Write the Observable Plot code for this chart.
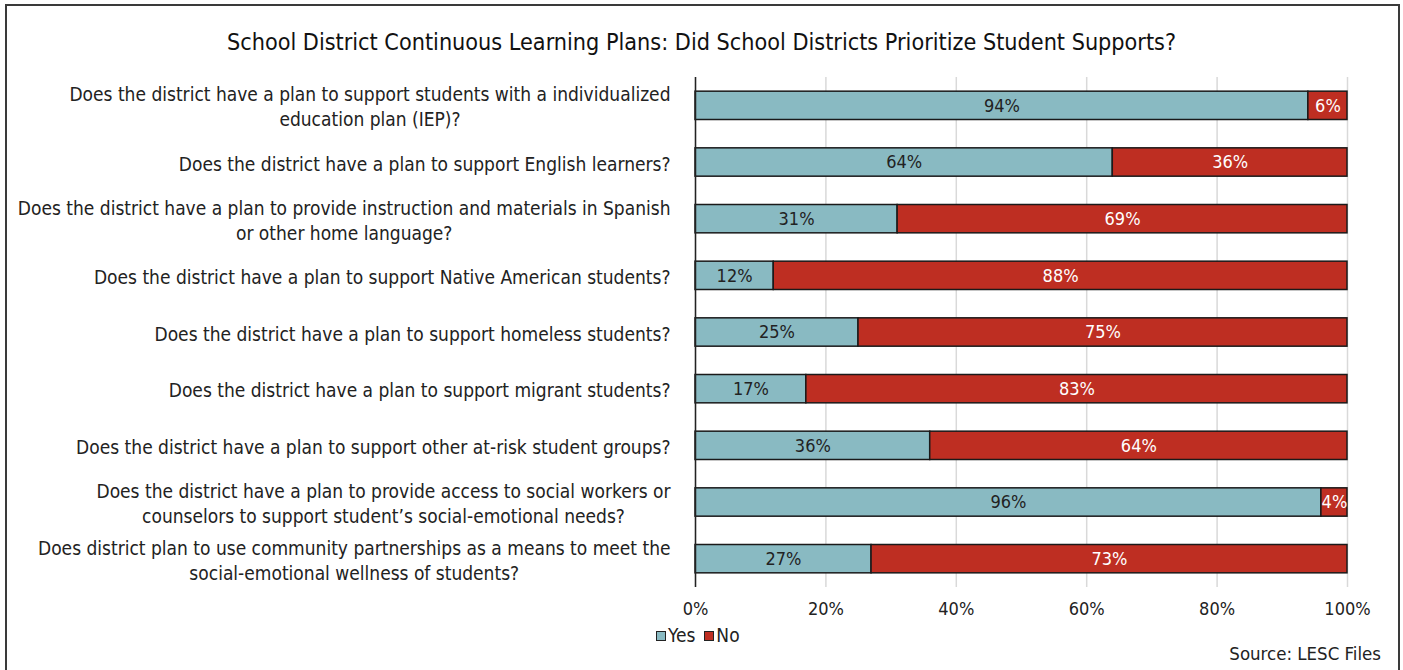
<!DOCTYPE html>
<html><head><meta charset="utf-8">
<script src="https://cdn.jsdelivr.net/npm/d3@7"></script>
<script src="https://cdn.jsdelivr.net/npm/@observablehq/plot@0.6"></script>
<style>
body{margin:0;background:#fff;width:1403px;height:670px;overflow:hidden;position:relative;}
#frame{position:absolute;left:5px;top:4px;width:1395px;height:720px;border:2px solid #3a3a3a;box-sizing:border-box;}
#title{position:absolute;left:0;top:28px;width:1403px;text-align:center;font-family:"DejaVu Sans Condensed","Liberation Sans Narrow",sans-serif;font-size:23.2px;color:#111;}
#chart{position:absolute;left:0;top:60px;}
#legend{position:absolute;left:656px;top:624px;font-family:"DejaVu Sans Condensed","Liberation Sans Narrow",sans-serif;font-size:19px;color:#222;}
#legend span.sw{display:inline-block;width:8px;height:8px;border:1.5px solid #222;margin-right:2px;vertical-align:middle;position:relative;top:-1px;}
#legend span.it{margin-right:9px;}
#source{position:absolute;right:22px;top:643px;font-family:"DejaVu Sans Condensed","Liberation Sans Narrow",sans-serif;font-size:18.5px;color:#222;}
</style>
</head><body>
<div id="frame"></div>
<div id="title">School District Continuous Learning Plans: Did School Districts Prioritize Student Supports?</div>
<div id="chart"></div>
<div id="legend"></div>
<div id="source">Source: LESC Files</div>
<script>
const questions = [
  "Does the district have a plan to support students with a individualized\neducation plan (IEP)?",
  "Does the district have a plan to support English learners?",
  "Does the district have a plan to provide instruction and materials in Spanish\nor other home language?",
  "Does the district have a plan to support Native American students?",
  "Does the district have a plan to support homeless students?",
  "Does the district have a plan to support migrant students?",
  "Does the district have a plan to support other at-risk student groups?",
  "Does the district have a plan to provide access to social workers or\ncounselors to support student\u2019s social-emotional needs?",
  "Does district plan to use community partnerships as a means to meet the\nsocial-emotional wellness of students?"
];
const yesValues = [94, 64, 31, 12, 25, 17, 36, 96, 27];
const noValues = [6, 36, 69, 88, 75, 83, 64, 4, 73];
const seriesNames = ["Yes", "No"];
const seriesColors = ["#89BAC2", "#BE2E22"];
const labelColors = ["#222222", "#ffffff"];
const xTicks = [0, 20, 40, 60, 80, 100];

const FONT = '"DejaVu Sans Condensed","Liberation Sans Narrow",sans-serif';
const LABEL_SIZE = 19;

const rows = [];
questions.forEach((q, i) => {
  rows.push({q, series: "Yes", value: yesValues[i], x1: 0, x2: yesValues[i]});
  rows.push({q, series: "No", value: noValues[i], x1: yesValues[i], x2: yesValues[i] + noValues[i]});
});
rows.forEach(d => d.mid = (d.x1 + d.x2) / 2);

// measure label widths so multi-line labels are centered within a right-aligned block
const ctx = document.createElement("canvas").getContext("2d");
ctx.font = `${LABEL_SIZE}px ${FONT}`;
const labelMarks = questions.map(q => {
  const w = d3.max(q.split("\n"), l => ctx.measureText(l).width);
  return Plot.text([q], {
    y: d => d, text: d => d, frameAnchor: "left", textAnchor: "middle",
    dx: -25 - w / 2, lineHeight: 25 / LABEL_SIZE, fontSize: LABEL_SIZE, fill: "#222"
  });
});

const chart = Plot.plot({
  width: 1403,
  height: 570,
  marginLeft: 695,
  marginRight: 56,
  marginTop: 17,
  marginBottom: 43,
  style: {fontFamily: FONT, background: "transparent"},
  x: {domain: [0, 100], label: null},
  y: {domain: questions, paddingInner: 0.5, paddingOuter: 0.25, round: false, axis: null},
  color: {domain: seriesNames, range: seriesColors},
  marks: [
    Plot.gridX(xTicks, {stroke: "#d9d9d9", strokeOpacity: 1, strokeWidth: 1.5}),
    Plot.barX(rows, {y: "q", x1: "x1", x2: "x2", fill: "series", stroke: "#1a1a1a", strokeWidth: 1.5}),
    Plot.ruleX([0], {stroke: "#222", strokeWidth: 1.5}),
    Plot.text(rows.filter(d => d.series === "Yes"), {x: "mid", y: "q", text: d => d.value + "%", fill: labelColors[0], fontSize: 18}),
    Plot.text(rows.filter(d => d.series === "No"), {x: "mid", y: "q", text: d => d.value + "%", fill: labelColors[1], fontSize: 18}),
    Plot.axisX({ticks: xTicks, tickSize: 0, tickPadding: 15, tickFormat: d => d + "%", fontSize: 18, label: null, color: "#222"}),
    ...labelMarks
  ]
});
document.getElementById("chart").appendChild(chart);

const legend = document.getElementById("legend");
legend.innerHTML = seriesNames.map((s, i) =>
  `<span class="sw" style="background:${seriesColors[i]}"></span><span class="it">${s}</span>`).join("");
</script>
</body></html>
